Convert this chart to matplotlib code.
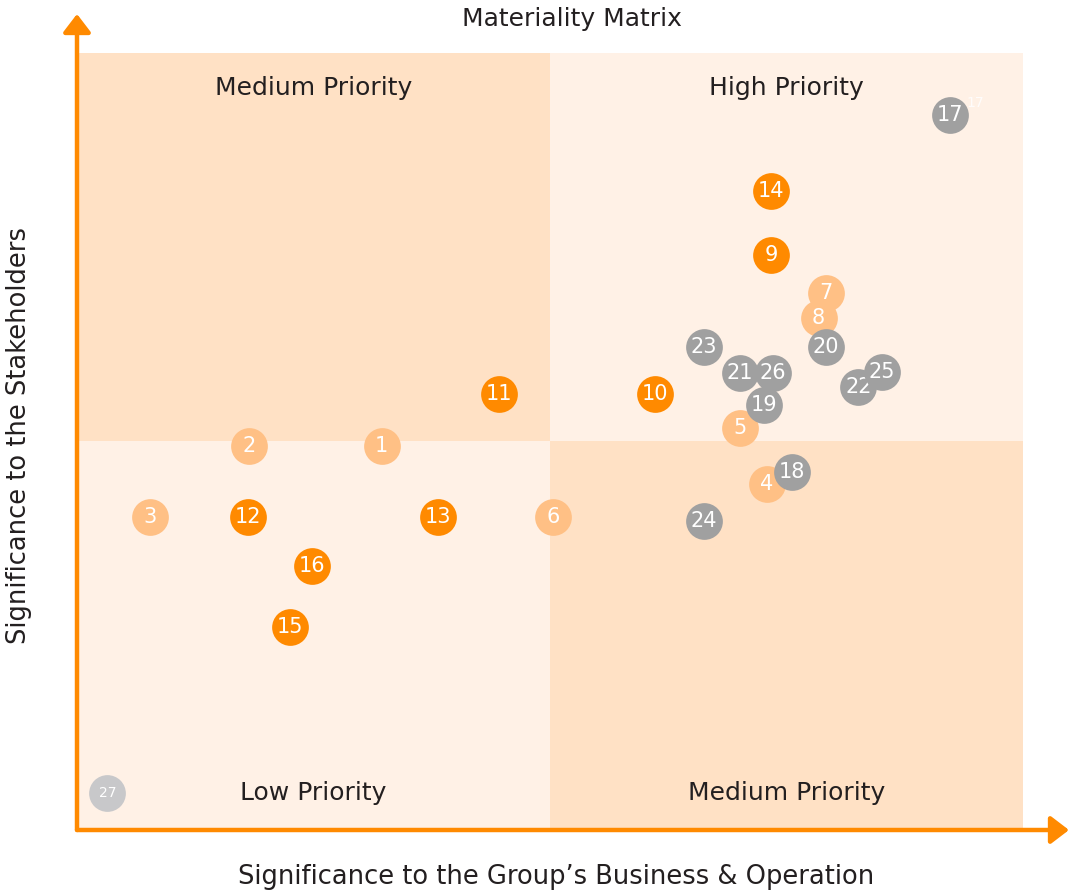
import matplotlib
matplotlib.use("Agg")
import matplotlib.pyplot as plt
from matplotlib.patches import Rectangle

plt.rcParams['font.family'] = ['DejaVu Sans']

# Data (significance scores on a 0-10 scale)
light_ids = [1, 2, 3, 4, 5, 6, 7, 8]
light_x = [3.22, 1.82, 0.77, 7.29, 7.01, 5.03, 7.92, 7.84]
light_y = [4.94, 4.94, 4.03, 4.45, 5.17, 4.03, 6.91, 6.59]

dark_ids = [9, 10, 11, 12, 13, 14, 15, 16]
dark_x = [7.34, 6.11, 4.46, 1.81, 3.82, 7.34, 2.25, 2.48]
dark_y = [7.40, 5.61, 5.61, 4.03, 4.03, 8.22, 2.61, 3.40]

gray_ids = [17, 18, 19, 20, 21, 22, 23, 24, 25, 26]
gray_x = [9.23, 7.56, 7.26, 7.92, 7.01, 8.26, 6.63, 6.63, 8.51, 7.36]
gray_y = [9.20, 4.61, 5.47, 6.22, 5.88, 5.70, 6.22, 3.98, 5.89, 5.88]

pale_ids = [27]
pale_x = [0.32]
pale_y = [0.48]

quadrant_labels = ["Medium Priority", "High Priority", "Low Priority", "Medium Priority"]
title = "Materiality Matrix"
xlabel = "Significance to the Group\u2019s Business & Operation"
ylabel = "Significance to the Stakeholders"

ORANGE = "#FF8A00"
TEXT = "#231F20"
MED = "#FFE1C5"
LOWHIGH = "#FFF1E6"

fig = plt.figure(figsize=(10.69, 8.96), dpi=100)
ax = fig.add_axes([77/1069, (896-830)/896, 946/1069, 777/896])
ax.set_xlim(0, 10)
ax.set_ylim(0, 10)
ax.axis('off')

# Quadrants
ax.add_patch(Rectangle((0, 5), 5, 5, color=MED, lw=0, zorder=0))
ax.add_patch(Rectangle((5, 5), 5, 5, color=LOWHIGH, lw=0, zorder=0))
ax.add_patch(Rectangle((0, 0), 5, 5, color=LOWHIGH, lw=0, zorder=0))
ax.add_patch(Rectangle((5, 0), 5, 5, color=MED, lw=0, zorder=0))

qfs = 18
ax.text(2.5, 9.55, quadrant_labels[0], ha='center', va='center', fontsize=qfs, color=TEXT)
ax.text(7.5, 9.55, quadrant_labels[1], ha='center', va='center', fontsize=qfs, color=TEXT)
ax.text(2.5, 0.48, quadrant_labels[2], ha='center', va='center', fontsize=qfs, color=TEXT)
ax.text(7.5, 0.48, quadrant_labels[3], ha='center', va='center', fontsize=qfs, color=TEXT)

S = 700
def draw(ids, xs, ys, color, fs, z):
    for i, (n, x, y) in enumerate(zip(ids, xs, ys)):
        ax.scatter([x], [y], s=S, color=color, lw=0, zorder=z + 2 * i)
        ax.text(x, y, str(n), ha='center', va='center', color='white',
                fontsize=fs, zorder=z + 2 * i + 1)

draw(light_ids, light_x, light_y, "#FFC085", 15, 10)
draw(dark_ids, dark_x, dark_y, "#FF8A00", 15, 40)
draw(gray_ids, gray_x, gray_y, "#A0A0A0", 15, 70)
draw(pale_ids, pale_x, pale_y, "#C8C8CA", 10, 100)
ax.text(gray_x[0] + 0.26, gray_y[0] + 0.16, "17", color='white', fontsize=10,
        ha='center', va='center', alpha=0.85, zorder=120)

# Axes with arrows
arrow = dict(arrowstyle='-|>,head_length=0.55,head_width=0.42', color=ORANGE,
             lw=3.2, mutation_scale=20, shrinkA=0, shrinkB=0)
ax.annotate("", xy=(0, 1 + 39/777), xytext=(0, 0), xycoords='axes fraction',
            textcoords='axes fraction', arrowprops=arrow, annotation_clip=False)
ax.annotate("", xy=(1 + 46/946, 0), xytext=(0, 0), xycoords='axes fraction',
            textcoords='axes fraction', arrowprops=arrow, annotation_clip=False)

fig.text(572/1069, 1 - 19/896, title, ha='center', va='center', fontsize=18, color=TEXT)
fig.text(556/1069, 1 - 877/896, xlabel, ha='center', va='center', fontsize=18.5, color=TEXT)
fig.text(19/1069, 1 - 436/896, ylabel, ha='center', va='center', fontsize=18.5,
         color=TEXT, rotation=90)

fig.savefig("out.png", dpi=100)
